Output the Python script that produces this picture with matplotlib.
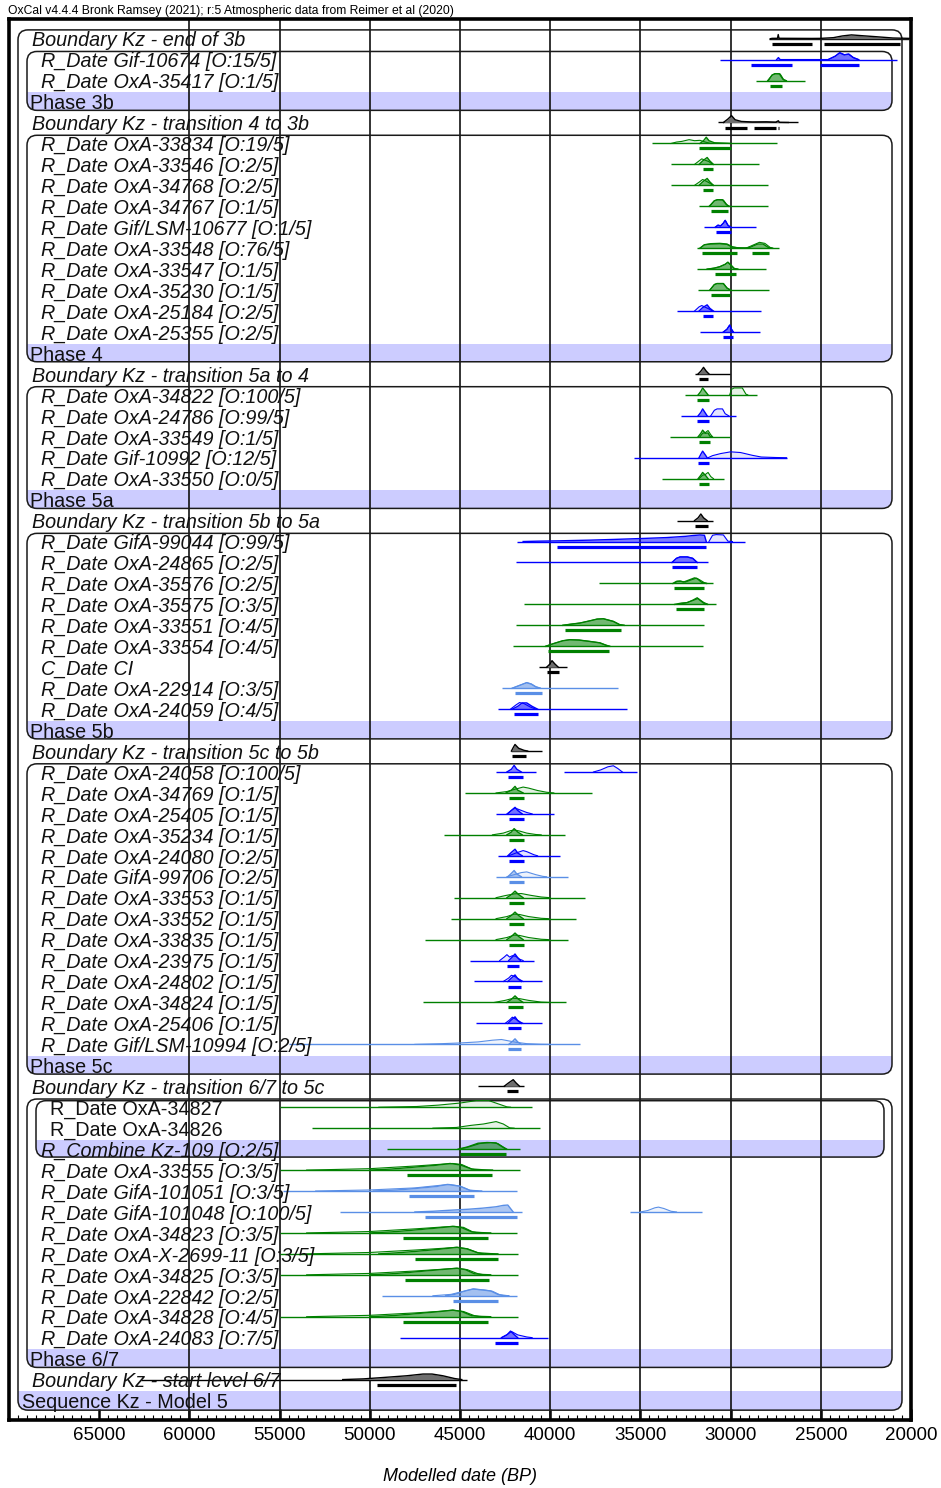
import matplotlib
matplotlib.use("Agg")
import matplotlib.pyplot as plt
import matplotlib.transforms as mtransforms
from matplotlib.patches import FancyBboxPatch, Rectangle

plt.rcParams['font.family'] = ['Liberation Sans', 'DejaVu Sans']

TITLE = "OxCal v4.4.4 Bronk Ramsey (2021); r:5 Atmospheric data from Reimer et al (2020)"
XLABEL = "Modelled date (BP)"

LABELS = [
    "Boundary Kz - end of 3b",
    "R_Date Gif-10674 [O:15/5]",
    "R_Date OxA-35417 [O:1/5]",
    "Phase 3b",
    "Boundary Kz - transition 4 to 3b",
    "R_Date OxA-33834 [O:19/5]",
    "R_Date OxA-33546 [O:2/5]",
    "R_Date OxA-34768 [O:2/5]",
    "R_Date OxA-34767 [O:1/5]",
    "R_Date Gif/LSM-10677 [O:1/5]",
    "R_Date OxA-33548 [O:76/5]",
    "R_Date OxA-33547 [O:1/5]",
    "R_Date OxA-35230 [O:1/5]",
    "R_Date OxA-25184 [O:2/5]",
    "R_Date OxA-25355 [O:2/5]",
    "Phase 4",
    "Boundary Kz - transition 5a to 4",
    "R_Date OxA-34822 [O:100/5]",
    "R_Date OxA-24786 [O:99/5]",
    "R_Date OxA-33549 [O:1/5]",
    "R_Date Gif-10992 [O:12/5]",
    "R_Date OxA-33550 [O:0/5]",
    "Phase 5a",
    "Boundary Kz - transition 5b to 5a",
    "R_Date GifA-99044 [O:99/5]",
    "R_Date OxA-24865 [O:2/5]",
    "R_Date OxA-35576 [O:2/5]",
    "R_Date OxA-35575 [O:3/5]",
    "R_Date OxA-33551 [O:4/5]",
    "R_Date OxA-33554 [O:4/5]",
    "C_Date CI",
    "R_Date OxA-22914 [O:3/5]",
    "R_Date OxA-24059 [O:4/5]",
    "Phase 5b",
    "Boundary Kz - transition 5c to 5b",
    "R_Date OxA-24058 [O:100/5]",
    "R_Date OxA-34769 [O:1/5]",
    "R_Date OxA-25405 [O:1/5]",
    "R_Date OxA-35234 [O:1/5]",
    "R_Date OxA-24080 [O:2/5]",
    "R_Date GifA-99706 [O:2/5]",
    "R_Date OxA-33553 [O:1/5]",
    "R_Date OxA-33552 [O:1/5]",
    "R_Date OxA-33835 [O:1/5]",
    "R_Date OxA-23975 [O:1/5]",
    "R_Date OxA-24802 [O:1/5]",
    "R_Date OxA-34824 [O:1/5]",
    "R_Date OxA-25406 [O:1/5]",
    "R_Date Gif/LSM-10994 [O:2/5]",
    "Phase 5c",
    "Boundary Kz - transition 6/7 to 5c",
    "R_Date OxA-34827",
    "R_Date OxA-34826",
    "R_Combine Kz-109 [O:2/5]",
    "R_Date OxA-33555 [O:3/5]",
    "R_Date GifA-101051 [O:3/5]",
    "R_Date GifA-101048 [O:100/5]",
    "R_Date OxA-34823 [O:3/5]",
    "R_Date OxA-X-2699-11 [O:3/5]",
    "R_Date OxA-34825 [O:3/5]",
    "R_Date OxA-22842 [O:2/5]",
    "R_Date OxA-34828 [O:4/5]",
    "R_Date OxA-24083 [O:7/5]",
    "Phase 6/7",
    "Boundary Kz - start level 6/7",
    "Sequence Kz - Model 5",
]

# kind of each row: B boundary, D date, P phase, S sequence, I date inside combine, C combine
ROW_KIND = ("BDDPB" + "D" * 10 + "PB" + "D" * 5 + "PB" + "D" * 9 + "PB" + "D" * 14
            + "PB" + "IIC" + "D" * 9 + "PBS")

# series group of each row: k boundary/C_Date, g green, b blue, c light blue, - none
ROW_SERIES = ("kbg-k" + "gggg" + "b" + "ggg" + "bb" + "-k" + "gbgbg" + "-k"
              + "bbgggg" + "k" + "cb" + "-k" + "bgbgbcgggbbgbc" + "-k"
              + "ggg" + "gccgggcgb" + "-k-")

# phases / sequence boxes: (first row, last row, nesting level)
GROUPS = [(0, 65, 0), (1, 3, 1), (5, 15, 1), (17, 22, 1), (24, 33, 1),
          (35, 49, 1), (51, 63, 1), (51, 53, 2)]

# thin lines: extent of each plotted distribution (years BP)
SPANS = {
    0: [(27850, 20100)], 1: [(30600, 20800)], 2: [(28600, 25850)],
    4: [(30700, 26250)], 5: [(34350, 27450)], 6: [(33300, 28400)],
    7: [(33300, 27900)], 8: [(31750, 27900)], 9: [(31500, 28600)],
    10: [(31850, 27300)], 11: [(31850, 28050)], 12: [(31800, 27850)],
    13: [(32950, 28300)], 14: [(31700, 28350)], 16: [(32000, 30050)],
    17: [(32550, 28550)], 18: [(32750, 29700)], 19: [(33350, 30050)],
    20: [(35350, 26900)], 21: [(33800, 30350)], 23: [(32950, 31000)],
    24: [(41850, 29200)], 25: [(41900, 31250)], 26: [(37300, 30950)],
    27: [(41450, 30800)], 28: [(41900, 31450)], 29: [(42050, 31550)],
    30: [(40600, 39050)], 31: [(42650, 36250)], 32: [(42900, 35750)],
    34: [(42200, 40450)], 35: [(43000, 40800), (39250, 35200)],
    36: [(44700, 37700)], 37: [(43000, 39800)], 38: [(45900, 39200)],
    39: [(42900, 39450)], 40: [(43000, 39000)], 41: [(45350, 38050)],
    42: [(45500, 38550)], 43: [(46950, 39000)], 44: [(44450, 40900)],
    45: [(44200, 40450)], 46: [(47050, 39100)], 47: [(44100, 40450)],
    48: [(54500, 38350)], 50: [(44000, 41450)], 51: [(55000, 41000)],
    52: [(53200, 40550)], 53: [(49050, 41700)], 54: [(55000, 41650)],
    55: [(54800, 41850)], 56: [(51650, 41550), (35600, 31600)],
    57: [(55000, 41850)], 58: [(55000, 41800)], 59: [(55000, 41800)],
    60: [(49300, 41850)], 61: [(55000, 41800)], 62: [(48350, 40100)],
    64: [(62700, 44600)],
}

# unmodelled (likelihood) distributions: (year BP, relative height)
UNMODELLED = {
    1: [(24600, 0), (24200, 0.5), (23950, 1.0), (23700, 0.7), (23450, 0.8), (23200, 0.3), (22900, 0)],
    2: [(27950, 0), (27700, 0.8), (27500, 1.0), (27250, 0.95), (27050, 0.1), (26900, 0)],
    5: [(33300, 0), (33000, 0.2), (32700, 0.3), (32300, 0.55), (32000, 0.4), (31700, 0.45), (31400, 0.2), (31100, 0)],
    6: [(32000, 0), (31750, 0.5), (31600, 0.8), (31400, 0.6), (31200, 0.4), (31000, 0)],
    7: [(32000, 0), (31750, 0.45), (31550, 0.85), (31350, 0.6), (31150, 0.3), (30950, 0)],
    8: [(31200, 0), (30900, 0.8), (30700, 0.95), (30400, 0.9), (30200, 0.2), (30050, 0)],
    9: [(30850, 0), (30700, 0.3), (30550, 0.2), (30400, 0.6), (30300, 1.0), (30150, 0.3), (30000, 0)],
    10: [(31700, 0), (31450, 0.5), (31100, 0.6), (30600, 0.65), (30200, 0.55), (29900, 0.15), (29500, 0.05),
         (29100, 0.05), (28800, 0.4), (28400, 0.85), (28100, 0.7), (27800, 0.1), (27650, 0)],
    11: [(31300, 0), (30900, 0.15), (30600, 0.35), (30300, 0.7), (30150, 1.0), (29950, 0.5), (29800, 0.1), (29600, 0)],
    12: [(31150, 0), (30900, 0.8), (30750, 0.95), (30400, 0.95), (30200, 0.3), (30000, 0)],
    13: [(32000, 0), (31750, 0.6), (31600, 0.8), (31400, 0.55), (31200, 0.3), (31000, 0)],
    14: [(30400, 0), (30200, 0.4), (30050, 1.0), (29950, 0.4), (29850, 0)],
    17: [(30050, 0), (29950, 0.8), (29800, 1.0), (29350, 1.0), (29150, 0.1), (29050, 0)],
    18: [(31100, 0), (30900, 0.8), (30750, 1.0), (30450, 1.0), (30300, 0.3), (30100, 0)],
    19: [(31700, 0), (31550, 0.5), (31400, 0.6), (31250, 0.9), (31100, 0.3), (31000, 0)],
    20: [(31250, 0), (31000, 0.3), (30550, 0.6), (30000, 0.85), (29450, 0.75), (28800, 0.35),
         (28300, 0.1), (27500, 0.03), (26900, 0)],
    21: [(31750, 0), (31550, 0.5), (31400, 0.6), (31250, 0.9), (31100, 0.3), (30950, 0)],
    24: [(31200, 0), (31000, 0.9), (30800, 1.0), (30400, 0.95), (30150, 0.05), (29900, 0)],
    25: [(33250, 0), (33000, 0.6), (32800, 0.8), (32400, 0.8), (32100, 0.6), (31850, 0)],
    26: [(33150, 0), (32950, 0.3), (32750, 0.3), (32500, 0.2), (32200, 0.5), (31900, 0.75), (31700, 0.5),
         (31450, 0.1), (31300, 0)],
    27: [(32900, 0), (32500, 0.2), (32100, 0.55), (31800, 0.85), (31500, 0.3), (31250, 0)],
    28: [(39300, 0), (38900, 0.15), (38350, 0.33), (37800, 0.65), (37400, 0.9), (37050, 0.95), (36500, 0.57),
         (36150, 0.1), (35900, 0)],
    29: [(40250, 0), (39800, 0.4), (39300, 0.8), (38900, 0.95), (38400, 0.9), (37800, 0.7), (37250, 0.5),
         (36900, 0.15), (36700, 0)],
    31: [(42100, 0), (41800, 0.3), (41500, 0.6), (41300, 0.8), (41050, 0.6), (40800, 0.2), (40550, 0)],
    32: [(42200, 0), (41900, 0.6), (41700, 0.95), (41450, 0.8), (41100, 0.3), (40800, 0)],
    35: [(37600, 0), (37200, 0.3), (36800, 0.75), (36500, 0.9), (36250, 0.5), (36000, 0)],
    36: [(43000, 0), (42400, 0.2), (42000, 0.5), (41500, 0.85), (41200, 0.7), (40700, 0.35), (40200, 0.1), (39800, 0)],
    37: [(42400, 0), (42150, 0.5), (41950, 0.85), (41700, 0.6), (41300, 0.2), (41000, 0)],
    38: [(43200, 0), (42600, 0.25), (42200, 0.6), (42000, 0.7), (41700, 0.55), (41300, 0.25), (40800, 0.05), (40500, 0)],
    39: [(42300, 0), (41900, 0.4), (41500, 0.75), (41300, 0.6), (40900, 0.15), (40700, 0)],
    40: [(42400, 0), (42000, 0.3), (41600, 0.6), (41300, 0.7), (40800, 0.3), (40400, 0.05), (40200, 0)],
    41: [(43000, 0), (42500, 0.3), (42000, 0.55), (41600, 0.6), (41100, 0.35), (40500, 0.1), (40000, 0)],
    42: [(43000, 0), (42400, 0.3), (42000, 0.65), (41700, 0.6), (41200, 0.3), (40500, 0.05), (40100, 0)],
    43: [(43000, 0), (42400, 0.3), (42000, 0.65), (41700, 0.6), (41200, 0.3), (40500, 0.05), (40100, 0)],
    44: [(42800, 0), (42550, 0.5), (42400, 0.85), (42250, 0.5), (42100, 0.7), (41900, 0.6), (41700, 0.2), (41500, 0)],
    45: [(42600, 0), (42300, 0.5), (42150, 0.9), (41950, 0.7), (41700, 0.3), (41500, 0)],
    46: [(43100, 0), (42500, 0.3), (42050, 0.6), (41700, 0.55), (41200, 0.3), (40500, 0.05), (40000, 0)],
    47: [(42500, 0), (42250, 0.5), (42100, 0.9), (41900, 0.6), (41650, 0.2), (41500, 0)],
    48: [(47500, 0), (46000, 0.1), (45000, 0.2), (44000, 0.35), (43200, 0.6), (42700, 0.7), (42300, 0.5),
         (41900, 0.3), (41300, 0.1), (40500, 0.02), (40000, 0)],
    51: [(49500, 0), (47400, 0.1), (46200, 0.3), (45000, 0.6), (44100, 0.95), (43400, 0.95), (42900, 0.5),
         (42400, 0.05), (42200, 0)],
    52: [(46500, 0), (45200, 0.1), (44400, 0.4), (43700, 0.6), (43000, 0.95), (42600, 0.6), (42250, 0.05), (42000, 0)],
    53: [(45000, 0), (44400, 0.4), (43900, 0.8), (43300, 0.95), (42900, 0.8), (42600, 0.3), (42400, 0)],
    54: [(53500, 0), (52000, 0.08), (50000, 0.2), (47400, 0.6), (46000, 0.85), (45400, 0.95), (44900, 0.8),
         (44350, 0.15), (44050, 0)],
    55: [(53000, 0), (50000, 0.15), (47500, 0.45), (46000, 0.85), (45600, 0.95), (45000, 0.7), (44450, 0.1), (44000, 0)],
    56: [(35000, 0), (34600, 0.2), (34200, 0.6), (34000, 0.7), (33700, 0.5), (33300, 0.1), (33000, 0)],
    57: [(53500, 0), (52000, 0.08), (50000, 0.2), (47400, 0.6), (46000, 0.85), (45300, 0.95), (44800, 0.8),
         (44300, 0.15), (44000, 0)],
    58: [(53500, 0), (50000, 0.2), (47500, 0.55), (46000, 0.8), (45200, 0.95), (44600, 0.75), (44000, 0.15), (43700, 0)],
    59: [(53500, 0), (50000, 0.2), (47500, 0.55), (46000, 0.8), (45200, 0.95), (44600, 0.75), (44000, 0.15), (43700, 0)],
    60: [(46500, 0), (45500, 0.2), (44800, 0.65), (44300, 0.95), (43700, 0.85), (43200, 0.65), (42800, 0.15), (42300, 0)],
    61: [(53500, 0), (50000, 0.2), (47500, 0.55), (46000, 0.8), (45400, 0.95), (44800, 0.75), (44200, 0.15), (43900, 0)],
    62: [(42700, 0), (42350, 0.5), (42150, 0.9), (41800, 0.4), (41300, 0.1), (41000, 0)],
}

# modelled (posterior) distributions: (year BP, relative height)
MODELLED = {
    0: [(27800, 0), (27700, 0.05), (27400, 0.06), (27360, 0.6), (27320, 0.06), (25500, 0.04), (25000, 0.05),
        (24300, 0.15), (23800, 0.4), (23300, 0.55), (22800, 0.45), (22000, 0.3), (21000, 0.1), (20100, 0.05)],
    1: [(27450, 0), (27350, 0.3), (27250, 0), (24600, 0), (24200, 0.5), (23950, 1.0), (23700, 0.7),
        (23450, 0.8), (23200, 0.3), (22900, 0)],
    2: [(27900, 0), (27700, 0.8), (27550, 1.0), (27300, 1.0), (27100, 0.2), (26950, 0)],
    4: [(30400, 0), (30150, 0.5), (29950, 1.0), (29750, 0.4), (29400, 0.15), (28800, 0.08), (28000, 0.1),
        (27500, 0.05), (27350, 0.25), (27300, 0.02), (26800, 0)],
    5: [(31700, 0), (31500, 0.4), (31350, 0.9), (31200, 0.4), (30900, 0.1), (30200, 0.03), (30000, 0)],
    6: [(31750, 0), (31550, 0.5), (31300, 1.0), (31150, 0.5), (30950, 0)],
    7: [(31750, 0), (31550, 0.5), (31300, 1.0), (31150, 0.5), (30950, 0)],
    8: [(31150, 0), (30900, 0.8), (30750, 0.95), (30450, 0.95), (30250, 0.3), (30100, 0)],
    9: [(30850, 0), (30700, 0.3), (30550, 0.2), (30400, 0.6), (30300, 1.0), (30150, 0.3), (30000, 0)],
    10: [(31700, 0), (31450, 0.5), (31100, 0.65), (30600, 0.7), (30200, 0.6), (29900, 0.2), (29600, 0.05),
         (29200, 0.02), (28900, 0.15), (28500, 0.6), (28200, 0.6), (27900, 0.1), (27700, 0)],
    11: [(31300, 0), (30900, 0.15), (30600, 0.35), (30300, 0.7), (30150, 1.0), (29950, 0.5), (29800, 0.1), (29600, 0)],
    12: [(31150, 0), (30900, 0.8), (30750, 0.95), (30400, 0.95), (30200, 0.3), (30000, 0)],
    13: [(31750, 0), (31550, 0.5), (31300, 0.9), (31150, 0.4), (30950, 0)],
    14: [(30400, 0), (30200, 0.4), (30050, 1.0), (29950, 0.4), (29850, 0)],
    16: [(31800, 0), (31650, 0.4), (31500, 0.95), (31350, 0.4), (31200, 0)],
    17: [(31800, 0), (31650, 0.5), (31550, 1.0), (31400, 0.5), (31250, 0)],
    18: [(31800, 0), (31650, 0.5), (31550, 1.0), (31400, 0.4), (31300, 0)],
    19: [(31800, 0), (31650, 0.5), (31550, 0.95), (31400, 0.5), (31250, 0.55), (31150, 0.1), (31050, 0)],
    20: [(31750, 0), (31650, 0.5), (31550, 0.95), (31400, 0.4), (31300, 0)],
    21: [(31800, 0), (31650, 0.5), (31550, 0.9), (31400, 0.5), (31250, 0)],
    23: [(32000, 0), (31800, 0.4), (31650, 0.95), (31500, 0.4), (31300, 0)],
    24: [(41500, 0), (40700, 0.05), (39500, 0.1), (37800, 0.2), (36500, 0.3), (35000, 0.43), (33550, 0.57),
         (32500, 0.75), (32100, 0.86), (31700, 0.95), (31450, 0.9), (31350, 0)],
    25: [(33250, 0), (33000, 0.6), (32800, 0.8), (32400, 0.8), (32100, 0.6), (31850, 0)],
    26: [(33200, 0), (33000, 0.3), (32800, 0.35), (32600, 0.2), (32300, 0.5), (32000, 0.8), (31850, 0.7),
         (31600, 0.15), (31350, 0)],
    27: [(33100, 0), (32700, 0.2), (32400, 0.25), (32100, 0.6), (31850, 0.95), (31700, 0.6), (31450, 0.1), (31300, 0)],
    28: [(39300, 0), (38900, 0.15), (38350, 0.33), (37800, 0.65), (37400, 0.9), (37050, 0.95), (36500, 0.57),
         (36150, 0.1), (35900, 0)],
    29: [(40250, 0), (39800, 0.4), (39300, 0.8), (38900, 0.95), (38400, 0.9), (37800, 0.7), (37250, 0.5),
         (36900, 0.15), (36700, 0)],
    30: [(40200, 0), (40000, 0.5), (39900, 0.95), (39750, 0.5), (39550, 0)],
    31: [(42100, 0), (41800, 0.3), (41500, 0.6), (41300, 0.8), (41050, 0.6), (40800, 0.2), (40550, 0)],
    32: [(42100, 0), (41800, 0.4), (41550, 0.9), (41300, 0.9), (41000, 0.4), (40700, 0)],
    34: [(42150, 0), (42050, 0.5), (41950, 0.95), (41750, 0.4), (41450, 0.1), (41250, 0)],
    35: [(42400, 0), (42150, 0.4), (42000, 0.95), (41850, 0.4), (41600, 0)],
    36: [(42450, 0), (42150, 0.4), (41950, 0.95), (41800, 0.4), (41500, 0)],
    37: [(42350, 0), (42150, 0.5), (41950, 0.95), (41800, 0.5), (41550, 0)],
    38: [(42400, 0), (42150, 0.4), (42000, 0.9), (41800, 0.4), (41550, 0)],
    39: [(42350, 0), (42150, 0.5), (41950, 0.95), (41800, 0.4), (41550, 0)],
    40: [(42350, 0), (42150, 0.5), (42000, 0.9), (41850, 0.4), (41600, 0)],
    41: [(42400, 0), (42150, 0.45), (41950, 0.95), (41750, 0.45), (41500, 0)],
    42: [(42400, 0), (42150, 0.45), (41950, 0.95), (41750, 0.45), (41500, 0)],
    43: [(42400, 0), (42150, 0.45), (41950, 0.95), (41750, 0.45), (41500, 0)],
    44: [(42300, 0), (42100, 0.5), (41950, 0.95), (41800, 0.4), (41650, 0)],
    45: [(42350, 0), (42150, 0.5), (41950, 0.95), (41800, 0.4), (41600, 0)],
    46: [(42400, 0), (42150, 0.45), (41950, 0.95), (41750, 0.45), (41500, 0)],
    47: [(42350, 0), (42150, 0.5), (41950, 0.95), (41800, 0.4), (41600, 0)],
    48: [(42300, 0), (42100, 0.4), (41950, 0.8), (41800, 0.35), (41600, 0)],
    50: [(42550, 0), (42300, 0.5), (42050, 0.95), (41900, 0.5), (41700, 0)],
    53: [(45100, 0), (44600, 0.3), (44000, 0.85), (43500, 0.95), (43000, 0.9), (42700, 0.4), (42450, 0)],
    54: [(50000, 0), (48800, 0.15), (47950, 0.33), (46300, 0.7), (45550, 0.95), (45000, 0.75), (44350, 0.15),
         (43800, 0.05), (43200, 0)],
    55: [(49800, 0), (48500, 0.15), (47750, 0.3), (46300, 0.65), (45700, 0.95), (45000, 0.7), (44450, 0.1),
         (44000, 0.02), (43800, 0)],
    56: [(47500, 0), (46500, 0.1), (45550, 0.25), (44500, 0.4), (43750, 0.55), (43000, 0.75), (42600, 0.95),
         (42350, 1.0), (42050, 0)],
    57: [(50000, 0), (48800, 0.15), (47900, 0.33), (46300, 0.7), (45400, 0.95), (44900, 0.75), (44350, 0.15),
         (43800, 0.04), (43300, 0)],
    58: [(49500, 0), (48500, 0.15), (47500, 0.35), (46200, 0.65), (45150, 0.95), (44600, 0.7), (44000, 0.15),
         (43300, 0.03), (42900, 0)],
    59: [(50000, 0), (48800, 0.15), (47900, 0.33), (46300, 0.7), (45150, 0.95), (44700, 0.75), (44200, 0.15),
         (43700, 0.04), (43300, 0)],
    60: [(45800, 0), (45300, 0.2), (44700, 0.7), (44250, 1.0), (43800, 0.85), (43300, 0.7), (42900, 0.2),
         (42600, 0.02), (42300, 0)],
    61: [(50000, 0), (48800, 0.15), (47900, 0.33), (46300, 0.7), (45400, 0.95), (44900, 0.75), (44350, 0.15),
         (43800, 0.04), (43300, 0)],
    62: [(42700, 0), (42400, 0.4), (42200, 0.95), (42000, 0.45), (41800, 0)],
    64: [(51500, 0), (50350, 0.1), (49250, 0.3), (47950, 0.55), (47050, 0.8), (46550, 0.8), (45950, 0.55),
         (45300, 0.15), (44900, 0)],
}

# 95.4% highest posterior density ranges (year BP)
RANGES = {
    0: [(27700, 25500), (24800, 20600)], 1: [(28850, 26600), (25050, 22900)], 2: [(27800, 27150)],
    4: [(30300, 29100), (28700, 27500), (27400, 27300)], 5: [(31750, 30000)], 6: [(31550, 30950)],
    7: [(31550, 30950)], 8: [(31100, 30150)], 9: [(30800, 30000)], 10: [(31600, 29650), (28800, 27850)],
    11: [(30850, 29700)], 12: [(31100, 30050)], 13: [(31550, 31000)], 14: [(30400, 29850)],
    16: [(31750, 31250)], 17: [(31850, 31200)], 18: [(31850, 31200)], 19: [(31750, 31150)],
    20: [(31800, 31200)], 21: [(31750, 31200)], 23: [(31950, 31250)], 24: [(39600, 31350)],
    25: [(33250, 31850)], 26: [(33150, 31500)], 27: [(33000, 31450)], 28: [(39200, 36050)],
    29: [(40100, 36750)], 30: [(40150, 39500)], 31: [(41950, 40450)], 32: [(42000, 40650)],
    34: [(42100, 41350)], 35: [(42350, 41500)], 36: [(42300, 41450)], 37: [(42300, 41450)],
    38: [(42300, 41450)], 39: [(42300, 41450)], 40: [(42300, 41450)], 41: [(42300, 41450)],
    42: [(42300, 41450)], 43: [(42300, 41450)], 44: [(42400, 41750)], 45: [(42350, 41600)],
    46: [(42350, 41500)], 47: [(42350, 41600)], 48: [(42350, 41600)], 50: [(42400, 41800)],
    53: [(45000, 42450)], 54: [(47950, 43250)], 55: [(47800, 44250)], 56: [(46950, 41850)],
    57: [(48150, 43450)], 58: [(47500, 42900)], 59: [(48050, 43400)], 60: [(45400, 42900)],
    61: [(48150, 43450)], 62: [(43050, 41800)], 64: [(49600, 45200)],
}

MAJOR_TICKS = [65000, 60000, 55000, 50000, 45000, 40000, 35000, 30000, 25000, 20000]

# ---------------------------------------------------------------- styling
W, H = 941, 1488
AX_L, AX_R, AX_T, AX_B = 9, 911, 19, 1420
COLORS = {'k': '#000000', 'g': '#008000', 'b': '#0000ff', 'c': '#5a8fe6'}
BASE_OFF, BAR_OFF, PEAK_H = -0.06, 0.18, 0.33

fig = plt.figure(figsize=(W / 100, H / 100), dpi=100)
ax = fig.add_axes([AX_L / W, 1 - AX_B / H, (AX_R - AX_L) / W, (AX_B - AX_T) / H])
ax.set_xlim(70000, 20000)
ax.set_ylim(65.87, -1.0)
trans = mtransforms.blended_transform_factory(ax.transAxes, ax.transData)
row_px = (AX_B - AX_T) / 66.87


def fx(px):
    return (px - AX_L) / (AX_R - AX_L)


# boxes
BOX_LEFT = [18, 27, 36]
BOX_RIGHT = [902, 892, 884]
TOP_OFF = [0.48, 0.45, 0.37]
BOT_OFF = [0.40, 0.36, 0.32]
rad = 10.0
for first, last, lev in GROUPS:
    x0, x1 = fx(BOX_LEFT[lev]), fx(BOX_RIGHT[lev])
    y0, y1 = first - TOP_OFF[lev], last + BOT_OFF[lev]
    rx = rad / (AX_R - AX_L)
    asp = (rad / row_px) / rx
    box = FancyBboxPatch((x0, y0), x1 - x0, y1 - y0,
                         boxstyle=f"round,pad=0,rounding_size={rx}",
                         mutation_aspect=asp, transform=trans, fill=False,
                         ec='#1a1a1a', lw=1.1, zorder=3)
    ax.add_patch(box)
    band = Rectangle((x0, last - 0.5), x1 - x0, y1 - (last - 0.5), transform=trans,
                     fc='#ccccff', ec='none', zorder=1)
    ax.add_patch(band)
    band.set_clip_path(box)

# vertical grid
for t in MAJOR_TICKS[1:-1]:
    ax.axvline(t, color='#111111', lw=1.2, zorder=2)

# distributions
for i, s in enumerate(ROW_SERIES):
    if s == '-':
        continue
    col = COLORS[s]
    yb = i + BASE_OFF
    for a, b in SPANS.get(i, []):
        ax.plot([a, b], [yb, yb], color=col, lw=1.0, zorder=4, solid_capstyle='butt')
    if i in UNMODELLED:
        xs = [p[0] for p in UNMODELLED[i]]
        ys = [yb - p[1] * PEAK_H for p in UNMODELLED[i]]
        ax.fill_between(xs, yb, ys, color=col, alpha=0.10, lw=0, zorder=4)
        ax.plot(xs, ys, color=col, lw=0.8, zorder=4)
    if i in MODELLED:
        xs = [p[0] for p in MODELLED[i]]
        ys = [yb - p[1] * PEAK_H for p in MODELLED[i]]
        if s == 'k':
            ax.fill_between(xs, yb, ys, color='#6e6e6e', lw=0, zorder=5)
        else:
            ax.fill_between(xs, yb, ys, color=col, alpha=0.5, lw=0, zorder=5)
        ax.plot(xs, ys, color=col, lw=1.0, zorder=5)
    for a, b in RANGES.get(i, []):
        ax.plot([a, b], [i + BAR_OFF, i + BAR_OFF], color=col, lw=2.3, zorder=5,
                solid_capstyle='butt')

# labels
LABEL_X = {'B': 32, 'D': 41, 'P': 30, 'S': 22, 'I': 50, 'C': 41}
ITALIC = {'B': True, 'D': True, 'P': False, 'S': False, 'I': False, 'C': True}
for i, (lab, k) in enumerate(zip(LABELS, ROW_KIND)):
    ax.text(fx(LABEL_X[k]), i + 0.31, lab, transform=trans, ha='left', va='baseline',
            fontsize=14.2, style='italic' if ITALIC[k] else 'normal', color='#111111', zorder=6)

# axes styling
ax.set_yticks([])
ax.set_xticks(MAJOR_TICKS)
ax.set_xticklabels([str(t) for t in MAJOR_TICKS])
ax.set_xticks(list(range(69500, 20000, -500)), minor=True)
ax.tick_params(axis='x', which='major', direction='in', length=8, width=1.8, labelsize=13.5, pad=5)
ax.tick_params(axis='x', which='minor', direction='in', length=3.5, width=0.8)
for sp in ax.spines.values():
    sp.set_linewidth(2.6)
    sp.set_zorder(7)
ax.set_xlabel(XLABEL, fontsize=13, style='italic', labelpad=17)
fig.text(8 / W, 1 - 11 / H, TITLE, fontsize=8.7, ha='left', va='center')

fig.savefig("out.png", dpi=100)
